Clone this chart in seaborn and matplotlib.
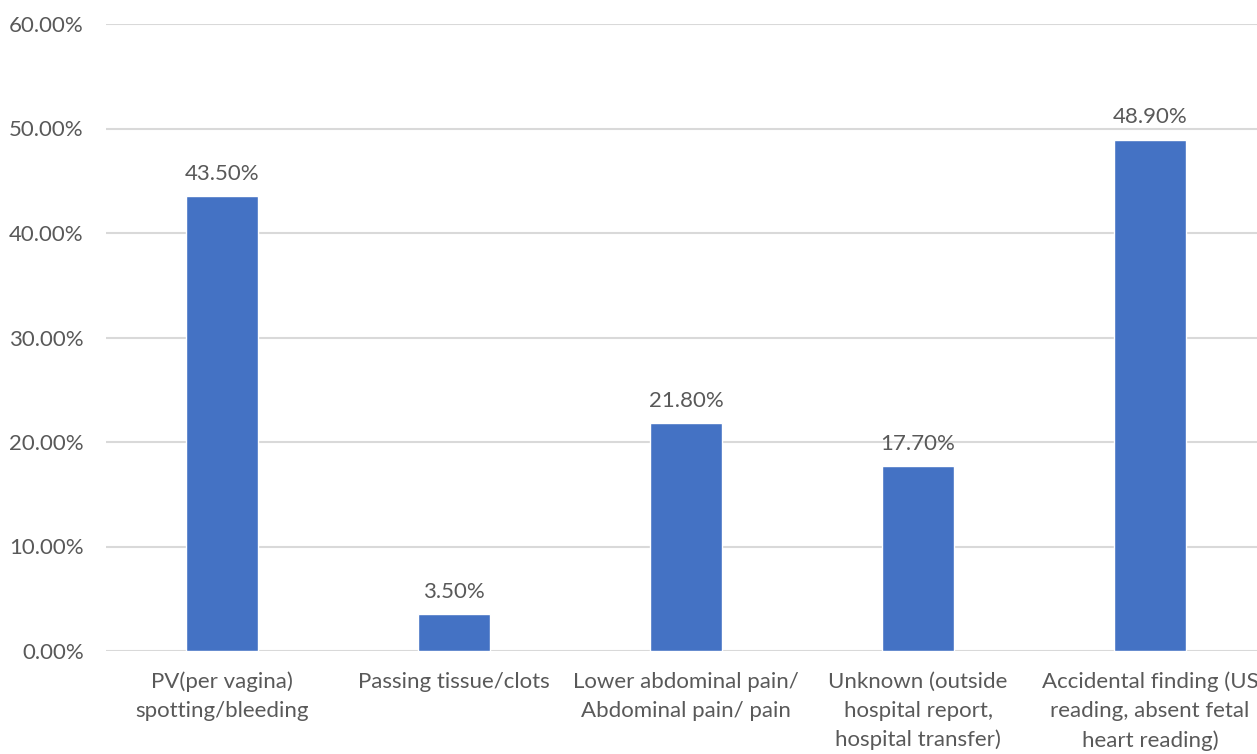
import matplotlib
matplotlib.use("Agg")
import matplotlib.pyplot as plt
import seaborn as sns
import pandas as pd
from matplotlib.ticker import FuncFormatter

categories = [
    "PV(per vagina)\nspotting/bleeding",
    "Passing tissue/clots",
    "Lower abdominal pain/\nAbdominal pain/ pain",
    "Unknown (outside\nhospital report,\nhospital transfer)",
    "Accidental finding (US\nreading, absent fetal\nheart reading)",
]
values = [43.5, 3.5, 21.8, 17.7, 48.9]
y_ticks = [0, 10, 20, 30, 40, 50, 60]

sns.set_theme(style="white")
plt.rcParams["font.family"] = ["Lato", "DejaVu Sans"]

df = pd.DataFrame({"category": categories, "value": values})

fig = plt.figure(figsize=(12.57, 7.54), dpi=100)
ax = fig.add_axes([106 / 1257, 103 / 754, 1160 / 1257, 627 / 754])

sns.barplot(data=df, x="category", y="value", color="#4472C4",
            width=0.31, saturation=1, ax=ax, zorder=3)

ax.set_ylim(0, 60)
ax.set_yticks(y_ticks)
ax.yaxis.set_major_formatter(FuncFormatter(lambda v, _: f"{v:.2f}%"))
ax.grid(axis="y", color="#D9D9D9", linewidth=1.5, zorder=0)
ax.set_axisbelow(True)
for s in ax.spines.values():
    s.set_visible(False)

ax.tick_params(axis="y", length=0, pad=16, labelsize=16, labelcolor="#595959")
ax.tick_params(axis="x", length=0, pad=15, labelsize=16, labelcolor="#595959")
for lbl in ax.get_xticklabels():
    lbl.set_linespacing(1.55)
ax.set_xlabel("")
ax.set_ylabel("")

for container in ax.containers:
    ax.bar_label(container, labels=[f"{v:.2f}%" for v in values],
                 padding=9, fontsize=16, color="#595959")

fig.savefig("out.png", dpi=100)
